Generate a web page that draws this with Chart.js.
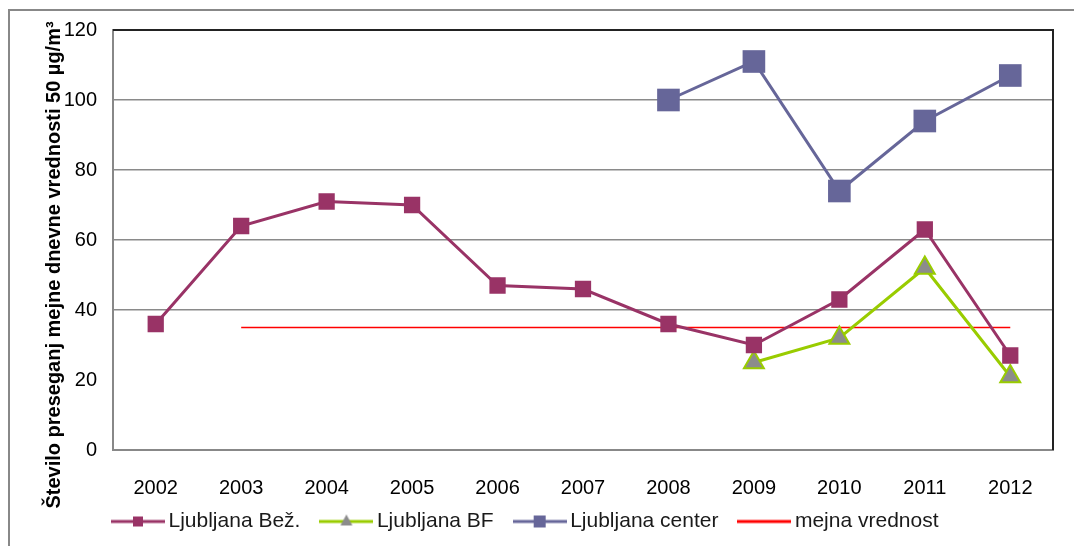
<!DOCTYPE html>
<html>
<head>
<meta charset="utf-8">
<script src="https://cdn.jsdelivr.net/npm/chart.js@4.4.1/dist/chart.umd.min.js"></script>
<style>
  html, body { margin: 0; padding: 0; background: #fff; }
  #wrap { position: relative; width: 1074px; height: 546px; }
</style>
</head>
<body>
<div id="wrap"><canvas id="chart" width="1074" height="546"></canvas></div>
<script>
// podatki
const years = ['2002', '2003', '2004', '2005', '2006', '2007', '2008', '2009', '2010', '2011', '2012'];
const bezValues = [36, 64, 71, 70, 47, 46, 36, 30, 43, 63, 27];
const bfValues = [null, null, null, null, null, null, null, 25, 32, 52, 21];
const centerValues = [null, null, null, null, null, null, 100, 111, 74, 94, 107];
const limitValues = [null, 35, 35, 35, 35, 35, 35, 35, 35, 35, 35];
const yMin = 0, yMax = 120, yStep = 20;

const fontFamily = "'Liberation Sans', Arial, sans-serif";

// ikona za legendo: crta z markerjem na sredini
function legendIcon(lineColor, marker) {
    const c = document.createElement('canvas');
    c.width = 54;
    c.height = 20;
    const ctx = c.getContext('2d');
    ctx.strokeStyle = lineColor;
    ctx.lineWidth = 3;
    ctx.beginPath();
    ctx.moveTo(0, 10);
    ctx.lineTo(54, 10);
    ctx.stroke();
    if (marker === 'square') {
        ctx.fillStyle = lineColor;
        ctx.fillRect(22, 5, 10, 10);
    } else if (marker === 'bigsquare') {
        ctx.fillStyle = lineColor;
        ctx.fillRect(21, 4, 12, 12);
    } else if (marker === 'triangle') {
        ctx.fillStyle = '#8c8c8c';
        ctx.beginPath();
        ctx.moveTo(27, 3);
        ctx.lineTo(33, 14);
        ctx.lineTo(21, 14);
        ctx.closePath();
        ctx.fill();
    }
    return c;
}

const icons = [
    legendIcon('#993366', 'square'),
    legendIcon('#99cc00', 'triangle'),
    legendIcon('#666699', 'bigsquare'),
    legendIcon('#ff0000', null)
];

// okvir in rob risalne povrsine
const framePlugin = {
    id: 'frame',
    afterLayout(chart) {
        // legenda naj se zacne bolj levo in malo visje, kot v originalu
        const lg = chart.legend;
        if (lg) {
            lg.left = 92;
            lg.right = chart.width;
            lg.top -= 15;
            lg.bottom -= 15;
        }
    },
    beforeDraw(chart) {
        const ctx = chart.ctx;
        ctx.save();
        ctx.fillStyle = '#fff';
        ctx.fillRect(0, 0, chart.width, chart.height);
        ctx.strokeStyle = '#888';
        ctx.lineWidth = 2;
        ctx.beginPath();
        ctx.moveTo(9, chart.height);
        ctx.lineTo(9, 10);
        ctx.lineTo(chart.width, 10);
        ctx.stroke();
        ctx.restore();
    },
    afterDatasetsDraw(chart) {
        const a = chart.chartArea;
        const ctx = chart.ctx;
        ctx.save();
        ctx.strokeStyle = '#222';
        ctx.lineWidth = 2;
        ctx.beginPath();
        ctx.moveTo(a.left, a.top);
        ctx.lineTo(a.right, a.top);
        ctx.lineTo(a.right, a.bottom);
        ctx.stroke();
        ctx.restore();
    }
};

const ctx = document.getElementById('chart').getContext('2d');
new Chart(ctx, {
    type: 'line',
    data: {
        labels: years,
        datasets: [{
            label: 'Ljubljana Bež.',
            data: bezValues,
            borderColor: '#993366',
            backgroundColor: '#993366',
            borderWidth: 3,
            pointStyle: 'rect',
            pointRadius: 11.5,
            pointBorderWidth: 0
        }, {
            label: 'Ljubljana BF',
            data: bfValues,
            borderColor: '#99cc00',
            backgroundColor: '#8c8c8c',
            borderWidth: 3,
            pointStyle: 'triangle',
            pointRadius: 11.5,
            pointBorderColor: '#99cc00',
            pointBorderWidth: 2
        }, {
            label: 'Ljubljana center',
            data: centerValues,
            borderColor: '#666699',
            backgroundColor: '#666699',
            borderWidth: 3,
            pointStyle: 'rect',
            pointRadius: 16,
            pointBorderWidth: 0
        }, {
            label: 'mejna vrednost',
            data: limitValues,
            borderColor: '#ff0000',
            backgroundColor: '#ff0000',
            borderWidth: 1.5,
            pointRadius: 0
        }]
    },
    options: {
        responsive: false,
        animation: false,
        layout: { padding: { left: 38, right: 21, top: 30, bottom: -11 } },
        plugins: {
            tooltip: { enabled: false },
            legend: {
                position: 'bottom',
                align: 'start',
                labels: {
                    usePointStyle: true,
                    pointStyleWidth: 40,
                    padding: 26,
                    color: '#1a1a1a',
                    font: { family: fontFamily, size: 21 },
                    generateLabels(chart) {
                        return chart.data.datasets.map((ds, i) => ({
                            text: ds.label,
                            pointStyle: icons[i],
                            fillStyle: ds.borderColor,
                            strokeStyle: ds.borderColor,
                            lineWidth: 0,
                            fontColor: '#1a1a1a',
                            datasetIndex: i,
                            hidden: false
                        }));
                    }
                }
            }
        },
        scales: {
            x: {
                offset: true,
                grid: { display: false, drawTicks: false },
                border: { color: '#888', width: 2 },
                ticks: {
                    padding: 26,
                    color: '#000',
                    font: { family: fontFamily, size: 20 }
                },
                afterFit: scale => { scale.height = 50; }
            },
            y: {
                min: yMin,
                max: yMax,
                grid: {
                    drawTicks: false,
                    lineWidth: 1.5,
                    color: c => (c.tick.value === 20 || c.tick.value === 0) ? 'rgba(0,0,0,0)' : '#8a8a8a'
                },
                border: { color: '#888', width: 2 },
                ticks: {
                    stepSize: yStep,
                    padding: 16,
                    color: '#000',
                    font: { family: fontFamily, size: 20 }
                },
                title: {
                    display: true,
                    text: 'Število preseganj mejne dnevne vrednosti 50 µg/m³' + '\u00a0'.repeat(9),
                    color: '#000',
                    font: { family: fontFamily, size: 20, weight: 'bold' },
                    padding: { top: 4, bottom: 0 }
                },
                afterFit: scale => { scale.width = 75; }
            }
        }
    },
    plugins: [framePlugin]
});
</script>
</body>
</html>
